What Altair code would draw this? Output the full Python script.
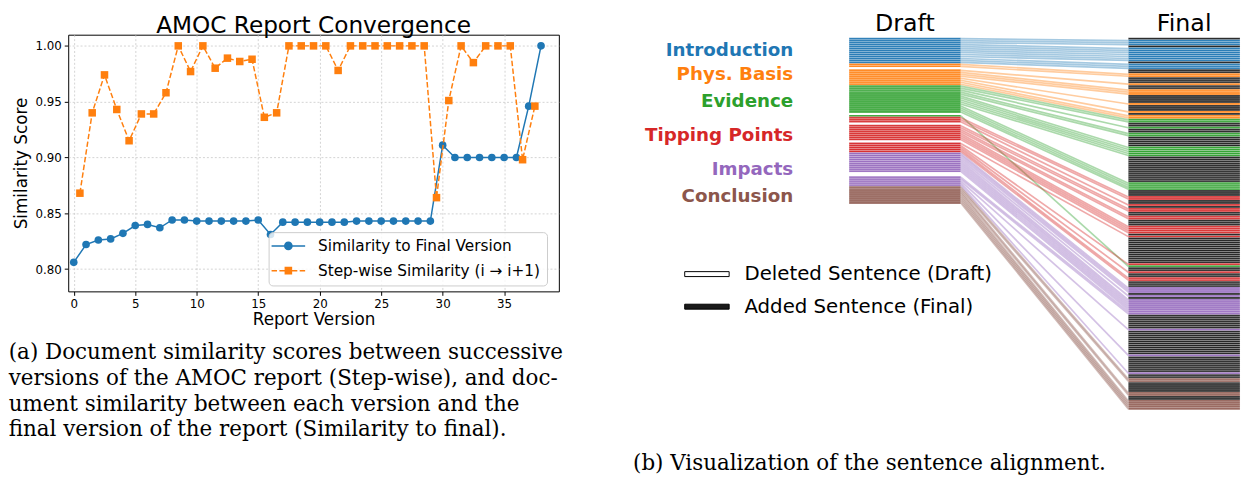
import altair as alt
import pandas as pd

# ---------------- (a) similarity data ----------------
VERSIONS = list(range(39))
SIM_FINAL = [0.806, 0.822, 0.826, 0.827, 0.832, 0.839, 0.840, 0.837, 0.844, 0.844,
             0.843, 0.843, 0.843, 0.843, 0.843, 0.844, 0.831, 0.842, 0.842, 0.842,
             0.842, 0.842, 0.842, 0.843, 0.843, 0.843, 0.843, 0.843, 0.843, 0.843,
             0.911, 0.900, 0.900, 0.900, 0.900, 0.900, 0.900, 0.946, 1.000]
STEP_X = [v + 0.5 for v in range(38)]
STEP_SIM = [0.868, 0.940, 0.974, 0.943, 0.915, 0.939, 0.939, 0.958, 1.000, 0.977,
            1.000, 0.980, 0.989, 0.986, 0.988, 0.936, 0.940, 1.000, 1.000, 1.000,
            1.000, 0.978, 1.000, 1.000, 1.000, 1.000, 1.000, 1.000, 1.000, 0.864,
            0.951, 1.000, 0.985, 1.000, 1.000, 1.000, 0.898, 0.946]
SERIES = ["Similarity to Final Version", "Step-wise Similarity (i \u2192 i+1)"]
SERIES_COLORS = ["#1f77b4", "#ff7f0e"]
X_TICKS = [0, 5, 10, 15, 20, 25, 30, 35]
Y_TICKS = [0.80, 0.85, 0.90, 0.95, 1.00]

CAPTION_A = ["(a) Document similarity scores between successive",
             "versions of the AMOC report (Step-wise), and doc-",
             "ument similarity between each version and the",
             "final version of the report (Similarity to final)."]
CAPTION_B = "(b) Visualization of the sentence alignment."

# ---------------- (b) sentence alignment data ----------------
SECTIONS = ["Introduction", "Phys. Basis", "Evidence", "Tipping Points", "Impacts", "Conclusion"]
SECTION_COLORS = ["#1f77b4", "#ff7f0e", "#2ca02c", "#d62728", "#9467bd", "#8c564b"]
DRAFT_COUNTS = [13, 11, 16, 18, 17, 10]
DRAFT_DELETED = [[], [2], [14], [3, 12], [10, 11], [9]]
DELETED = "Deleted Sentence (Draft)"
ADDED = "Added Sentence (Final)"
FINAL_RUN_LABELS = [
    ADDED, "Introduction", ADDED, "Introduction", ADDED, "Introduction",
    ADDED, "Phys. Basis", ADDED, "Phys. Basis", ADDED, "Phys. Basis", ADDED, "Phys. Basis",
    ADDED, "Phys. Basis", ADDED, "Phys. Basis",
    "Evidence", ADDED, "Evidence", ADDED, "Evidence", ADDED, "Evidence", ADDED, "Evidence",
    ADDED, "Tipping Points", ADDED, "Tipping Points", ADDED, "Tipping Points", ADDED,
    "Tipping Points", ADDED, "Tipping Points", ADDED, "Tipping Points", ADDED,
    "Tipping Points", "Evidence", ADDED, "Tipping Points", ADDED, "Tipping Points",
    ADDED, "Impacts", ADDED, "Impacts", ADDED, "Impacts", ADDED, "Impacts", ADDED,
    "Impacts", ADDED, "Impacts", ADDED,
    "Conclusion", ADDED, "Conclusion", ADDED, "Conclusion",
]
FINAL_RUN_COUNTS = [
    1, 3, 1, 7, 1, 3,
    2, 2, 3, 1, 2, 3, 4, 1,
    3, 1, 1, 2,
    2, 2, 1, 2, 2, 5, 5, 13, 4,
    3, 2, 2, 1, 1, 2, 2,
    2, 3, 4, 1, 1, 13,
    1, 1, 2, 1, 2, 2,
    3, 3, 1, 1, 1, 8, 7, 1, 12,
    1, 8, 1, 2,
    2, 5, 2, 2, 5,
]

# ---------------- layout constants ----------------
DRAFT_X, FINAL_X, COL_W, LABEL_X = 0.0, 2.5, 1.0, -0.5
Y_TOP_PAD = 1.5      # empty sentence-rows above the columns
HEAD_Y = -1.0        # header text-bottom position (sentence units)

# ---------------- build tables ----------------
draft_rows = []
pos = 0
for sec, n, dels in zip(SECTIONS, DRAFT_COUNTS, DRAFT_DELETED):
    for k in range(n):
        draft_rows.append({"y0": pos, "y1": pos + 1, "x0": DRAFT_X, "x1": DRAFT_X + COL_W,
                           "cat": DELETED if k in dels else sec})
        pos += 1
draft_df = pd.DataFrame(draft_rows)

final_rows = []
pos = 0
for lab, n in zip(FINAL_RUN_LABELS, FINAL_RUN_COUNTS):
    for _ in range(n):
        final_rows.append({"y0": pos, "y1": pos + 1, "x0": FINAL_X, "x1": FINAL_X + COL_W, "cat": lab})
        pos += 1
final_df = pd.DataFrame(final_rows)
N_FINAL = len(final_df)

link_rows = []
for sec in SECTIONS:
    d_idx = draft_df.index[draft_df["cat"] == sec].tolist()
    f_idx = final_df.index[final_df["cat"] == sec].tolist()
    for a, b in zip(d_idx, f_idx):
        link_rows.append({"x0": DRAFT_X + COL_W, "x1": FINAL_X, "yd": a + 0.5, "yf": b + 0.5, "cat": sec})
links_df = pd.DataFrame(link_rows)

sec_rows = []
start = 0
for sec, n in zip(SECTIONS, DRAFT_COUNTS):
    sec_rows.append({"x": LABEL_X, "y": start + n / 2, "cat": sec})
    start += n
sec_df = pd.DataFrame(sec_rows)
head_df = pd.DataFrame({"x": [DRAFT_X + COL_W / 2, FINAL_X + COL_W / 2], "y": [HEAD_Y, HEAD_Y],
                        "label": ["Draft", "Final"]})
leg_df = pd.DataFrame({"x0": [0, 0], "x1": [1, 1], "y0": [0, 0], "y1": [1, 1], "kind": [DELETED, ADDED]})

# ---------------- (a) chart ----------------
df_final = pd.DataFrame({"version": VERSIONS, "score": SIM_FINAL})
df_step = pd.DataFrame({"version": STEP_X, "score": STEP_SIM})
df_leg = pd.DataFrame({"version": [0, 0], "score": [0.9, 0.9], "series": SERIES})

xs_a = alt.Scale(domain=[-0.45, 39.45], nice=False, zero=False)
ys_a = alt.Scale(domain=[0.780, 1.010], nice=False, zero=False)
grid = dict(grid=True, gridColor="#c8c8c8", gridDash=[2, 2], gridWidth=0.8,
            domain=False, tickColor="black", tickSize=4, labelColor="black",
            labelFontSize=12, labelFont="DejaVu Sans", titleFont="DejaVu Sans",
            titleFontSize=17, titleFontWeight="normal", titleColor="black", labelPadding=3)
xa = alt.X("version:Q", scale=xs_a, axis=alt.Axis(values=X_TICKS, title="Report Version", titlePadding=3, **grid))
ya = alt.Y("score:Q", scale=ys_a, axis=alt.Axis(values=Y_TICKS, format=".2f", title="Similarity Score",
                                                titlePadding=5, **grid))

blue_line = alt.Chart(df_final).mark_line(color=SERIES_COLORS[0], strokeWidth=1.5).encode(x=xa, y=ya)
blue_pts = alt.Chart(df_final).mark_point(filled=True, shape="circle", size=60, opacity=1,
                                          color=SERIES_COLORS[0]).encode(x=xa, y=ya)
orange_line = alt.Chart(df_step).mark_line(color=SERIES_COLORS[1], strokeWidth=1.5,
                                           strokeDash=[5.5, 2.4]).encode(x=xa, y=ya)
orange_pts = alt.Chart(df_step).mark_point(filled=True, shape="square", size=58, opacity=1,
                                           color=SERIES_COLORS[1]).encode(x=xa, y=ya)

P_BLUE = ("M-1.375,-0.094H2.875V0.094H-1.375Z "
          "M1.3,0A0.55,0.55 0 1,1 0.2,0A0.55,0.55 0 1,1 1.3,0Z")
P_ORANGE = ("M-1.375,-0.094H-0.685V0.094H-1.375Z M-0.385,-0.094H0.305V0.094H-0.385Z "
            "M1.195,-0.094H1.885V0.094H1.195Z M2.185,-0.094H2.875V0.094H2.185Z "
            "M0.27,-0.48H1.23V0.48H0.27Z")
leg_a = alt.Legend(title=None, orient="none", legendX=203, legendY=200, symbolSize=256,
                   symbolStrokeWidth=0, symbolOpacity=1, labelFont="DejaVu Sans", labelFontSize=15.5,
                   labelColor="black", labelOffset=28, labelLimit=400, rowPadding=8, padding=6,
                   strokeColor="#cccccc", fillColor="rgba(255,255,255,0.8)", cornerRadius=4)
legend_layer = alt.Chart(df_leg).transform_filter("false").mark_point(filled=True).encode(
    x=xa, y=ya,
    color=alt.Color("series:N", scale=alt.Scale(domain=SERIES, range=SERIES_COLORS), legend=leg_a),
    shape=alt.Shape("series:N", scale=alt.Scale(domain=SERIES, range=[P_BLUE, P_ORANGE]), legend=leg_a),
)

left_plot = alt.layer(blue_line, blue_pts, orange_line, orange_pts, legend_layer).properties(
    width=497, height=260,
    title=alt.Title("AMOC Report Convergence", font="DejaVu Sans", fontSize=23.5, fontWeight="normal",
                    color="black", offset=-3, anchor="middle"),
    view=alt.ViewBackground(stroke="black", strokeWidth=1),
)
left_panel = alt.vconcat(left_plot, title=alt.Title(
    CAPTION_A, orient="bottom", anchor="start", font="DejaVu Serif", fontSize=21.7,
    fontWeight="normal", color="black", lineHeight=26, offset=14.5, dx=-3))

# ---------------- (b) chart ----------------
COLOR_DOMAIN = SECTIONS + [DELETED, ADDED]
COLOR_RANGE = SECTION_COLORS + ["white", "#1a1a1a"]
cscale = alt.Scale(domain=COLOR_DOMAIN, range=COLOR_RANGE)
xs_b = alt.Scale(domain=[0, FINAL_X + COL_W], nice=False, zero=False)
ys_b = alt.Scale(domain=[-Y_TOP_PAD, N_FINAL], nice=False, zero=False, reverse=True)

rules = alt.Chart(links_df).mark_rule(strokeWidth=1.7, opacity=0.4).encode(
    x=alt.X("x0:Q", scale=xs_b, axis=None), x2="x1:Q",
    y=alt.Y("yd:Q", scale=ys_b, axis=None), y2="yf:Q",
    color=alt.Color("cat:N", scale=cscale, legend=None))
draft_rects = alt.Chart(draft_df).mark_rect(stroke="white", strokeWidth=0.5, strokeOpacity=0.4,
                                            opacity=0.95).encode(
    x=alt.X("x0:Q", scale=xs_b, axis=None), x2="x1:Q",
    y=alt.Y("y0:Q", scale=ys_b, axis=None), y2="y1:Q",
    color=alt.Color("cat:N", scale=cscale, legend=None))
final_rects = alt.Chart(final_df).mark_rect(stroke="white", strokeWidth=0.5, strokeOpacity=0.45,
                                            opacity=0.95).encode(
    x=alt.X("x0:Q", scale=xs_b, axis=None), x2="x1:Q",
    y=alt.Y("y0:Q", scale=ys_b, axis=None), y2="y1:Q",
    color=alt.Color("cat:N", scale=cscale, legend=None))
leg_b = alt.Legend(title=None, orient="none", legendX=-167, legendY=232,
                   symbolType="M-1,-0.25H3.5V0.25H-1Z", symbolSize=400, symbolStrokeColor="black",
                   symbolStrokeWidth=1, symbolOpacity=1, labelFont="DejaVu Sans", labelFontSize=20,
                   labelColor="black", labelOffset=40, labelLimit=400, rowPadding=12)
legend_b = alt.Chart(leg_df).transform_filter("false").mark_rect().encode(
    x=alt.X("x0:Q", scale=xs_b, axis=None), x2="x1:Q",
    y=alt.Y("y0:Q", scale=ys_b, axis=None), y2="y1:Q",
    fill=alt.Fill("kind:N", scale=alt.Scale(domain=[DELETED, ADDED], range=["white", "#1a1a1a"]),
                  legend=leg_b))
sec_text = alt.Chart(sec_df).mark_text(align="right", baseline="middle", font="DejaVu Sans",
                                       fontWeight="bold", fontSize=18.5).encode(
    x=alt.X("x:Q", scale=xs_b, axis=None), y=alt.Y("y:Q", scale=ys_b, axis=None),
    text="cat:N", color=alt.Color("cat:N", scale=cscale, legend=None))
head_text = alt.Chart(head_df).mark_text(align="center", baseline="bottom", font="DejaVu Sans",
                                         fontSize=24, color="black").encode(
    x=alt.X("x:Q", scale=xs_b, axis=None), y=alt.Y("y:Q", scale=ys_b, axis=None), text="label:N")

right_panel = alt.layer(rules, draft_rects, final_rects, legend_b, sec_text, head_text).properties(
    width=396, height=380,
    view=alt.ViewBackground(stroke="transparent"),
    title=alt.Title(CAPTION_B, orient="bottom", anchor="start", font="DejaVu Serif", fontSize=21.7,
                    fontWeight="normal", color="black", offset=44, dx=-12),
)

chart = alt.hconcat(left_panel, right_panel, spacing=69).resolve_scale(
    color="independent", shape="independent", fill="independent").resolve_legend(
    color="independent", shape="independent", fill="independent").properties(
    padding={"left": 0, "top": 0, "right": 0, "bottom": 0}).configure(font="DejaVu Sans")

chart.save("out.html", embed_options={"renderer": "svg", "actions": False})
